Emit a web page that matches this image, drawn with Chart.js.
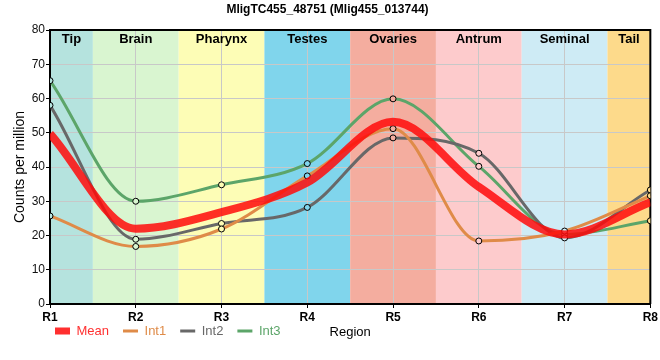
<!DOCTYPE html>
<html>
<head>
<meta charset="utf-8">
<script src="https://cdn.jsdelivr.net/npm/chart.js@4/dist/chart.umd.min.js"></script>
<style>
  html, body { margin: 0; padding: 0; background: #ffffff; }
  canvas { display: block; }
</style>
</head>
<body>
<canvas id="c" width="660" height="360"></canvas>
<script>
// ---- data ----
const categories = ['R1', 'R2', 'R3', 'R4', 'R5', 'R6', 'R7', 'R8'];
const regions = ['Tip', 'Brain', 'Pharynx', 'Testes', 'Ovaries', 'Antrum', 'Seminal', 'Tail'];
const meanValues = [49.7, 22.0, 26.8, 35.5, 53.2, 34.2, 20.3, 29.7];
const int1Values = [25.7, 16.8, 21.9, 37.4, 51.2, 18.4, 21.3, 31.6];
const int2Values = [58.0, 18.9, 23.5, 28.2, 48.5, 44.0, 19.3, 33.3];
const int3Values = [65.2, 30.0, 34.8, 41.0, 59.9, 40.2, 20.3, 24.3];
const yTicks = [0, 10, 20, 30, 40, 50, 60, 70, 80];

// ---- styles ----
const regionColors = ['#b5e3de', '#d9f5d0', '#fdfdb6', '#80d5ec', '#f4ad9f', '#fdcbcc', '#ceebf5', '#fdda8b'];
const FONT = '"Liberation Sans", Arial, sans-serif';
const cMean = 'rgba(255,10,10,0.85)';
const cInt1 = '#df8b48';
const cInt2 = '#686868';
const cInt3 = '#5ca569';

const toPts = arr => arr.map((y, i) => ({ x: i + 1, y }));
const markerFill = ctx => regionColors[Math.max(0, Math.min(regionColors.length - 1, Math.round(ctx.raw ? ctx.raw.x - 1 : 0)))];

const bandPlugin = {
  id: 'bands',
  beforeDraw(chart) {
    const { ctx, chartArea: a, scales: { x } } = chart;
    ctx.save();
    regions.forEach((name, i) => {
      const lo = Math.max(1, i + 0.5), hi = Math.min(categories.length, i + 1.5);
      const x0 = x.getPixelForValue(lo), x1 = x.getPixelForValue(hi);
      ctx.fillStyle = regionColors[i];
      ctx.fillRect(x0, a.top, x1 - x0, a.bottom - a.top);
    });
    ctx.restore();
  },
  beforeDatasetsDraw(chart) {
    const { ctx, chartArea: a, scales: { x } } = chart;
    ctx.save();
    ctx.font = 'bold 13px ' + FONT;
    ctx.fillStyle = '#000';
    ctx.textAlign = 'center';
    ctx.textBaseline = 'middle';
    regions.forEach((name, i) => {
      const lo = Math.max(1, i + 0.5), hi = Math.min(categories.length, i + 1.5);
      const cx = (x.getPixelForValue(lo) + x.getPixelForValue(hi)) / 2;
      ctx.fillText(name, cx, a.top + 9.5);
    });
    // top and right frame
    ctx.strokeStyle = '#000';
    ctx.lineWidth = 2;
    ctx.beginPath();
    ctx.moveTo(a.left, a.top);
    ctx.lineTo(a.right, a.top);
    ctx.lineTo(a.right, a.bottom);
    ctx.stroke();
    ctx.restore();
  },
  afterLayout(chart) {
    const lg = chart.legend;
    if (lg) {
      const dx = 41 - lg.left;
      lg.left += dx; lg.right += dx;
      lg.top -= 12.5; lg.bottom -= 12.5;
    }
  }
};

const legendItems = [
  { text: 'Mean', color: cMean, style: 'rect', lw: 0 },
  { text: 'Int1', color: cInt1, style: 'line', lw: 3 },
  { text: 'Int2', color: cInt2, style: 'line', lw: 3 },
  { text: 'Int3', color: cInt3, style: 'line', lw: 3 }
];

new Chart(document.getElementById('c'), {
  type: 'line',
  data: {
    datasets: [
      { label: 'Mean', data: toPts(meanValues), borderColor: cMean, backgroundColor: cMean, borderWidth: 8, pointRadius: 0, cubicInterpolationMode: 'monotone', fill: false },
      { label: 'Int1', data: toPts(int1Values), borderColor: cInt1, borderWidth: 3, pointRadius: 3, pointBorderWidth: 1, pointBorderColor: '#000', pointBackgroundColor: markerFill, cubicInterpolationMode: 'monotone', fill: false },
      { label: 'Int2', data: toPts(int2Values), borderColor: cInt2, borderWidth: 3, pointRadius: 3, pointBorderWidth: 1, pointBorderColor: '#000', pointBackgroundColor: markerFill, cubicInterpolationMode: 'monotone', fill: false },
      { label: 'Int3', data: toPts(int3Values), borderColor: cInt3, borderWidth: 3, pointRadius: 3, pointBorderWidth: 1, pointBorderColor: '#000', pointBackgroundColor: markerFill, cubicInterpolationMode: 'monotone', fill: false }
    ]
  },
  options: {
    responsive: false,
    animation: false,
    devicePixelRatio: 1,
    layout: { padding: { left: 4, right: 9, top: 0, bottom: 0 } },
    plugins: {
      title: {
        display: true,
        text: 'MligTC455_48751 (Mlig455_013744)',
        color: '#000',
        font: { family: FONT, size: 12, weight: 'bold' },
        padding: { top: 2, bottom: 13.6 }
      },
      legend: {
        display: true,
        position: 'bottom',
        align: 'start',
        labels: {
          usePointStyle: true,
          pointStyleWidth: 15,
          boxHeight: 7,
          padding: 14,
          font: { family: FONT, size: 13 },
          generateLabels: () => legendItems.map((it, i) => ({
            text: it.text,
            fillStyle: it.color,
            strokeStyle: it.color,
            lineWidth: it.lw,
            pointStyle: it.style,
            fontColor: it.color,
            hidden: false,
            datasetIndex: i
          }))
        }
      },
      tooltip: { enabled: false }
    },
    scales: {
      x: {
        type: 'linear',
        min: 1,
        max: categories.length,
        afterFit: s => { s.height = 19; },
        afterBuildTicks: s => { s.ticks = categories.map((c, i) => ({ value: i + 1 })); },
        ticks: {
          stepSize: 1,
          padding: 2,
          color: '#000',
          font: { family: FONT, size: 12, weight: 'bold' },
          callback: v => categories[v - 1],
          maxRotation: 0
        },
        grid: { color: '#c8c8c8', lineWidth: 1, tickLength: 4, tickColor: '#000' },
        border: { color: '#000', width: 2 },
        title: {
          display: true,
          text: 'Region',
          color: '#000',
          font: { family: FONT, size: 13 },
          padding: { top: 0, bottom: -17 }
        }
      },
      y: {
        min: 0,
        max: 80,
        afterFit: s => { s.width = 46; },
        afterBuildTicks: s => { s.ticks = yTicks.map(v => ({ value: v })); },
        ticks: {
          stepSize: 10,
          padding: 1,
          color: '#111',
          font: { family: FONT, size: 12 }
        },
        grid: { color: '#c8c8c8', lineWidth: 1, tickLength: 4, tickColor: '#000' },
        border: { color: '#000', width: 2 },
        title: {
          display: true,
          text: 'Counts per million',
          color: '#000',
          font: { family: FONT, size: 14 },
          padding: { top: 7.6, bottom: 0 }
        }
      }
    }
  },
  plugins: [bandPlugin]
});
</script>
</body>
</html>
